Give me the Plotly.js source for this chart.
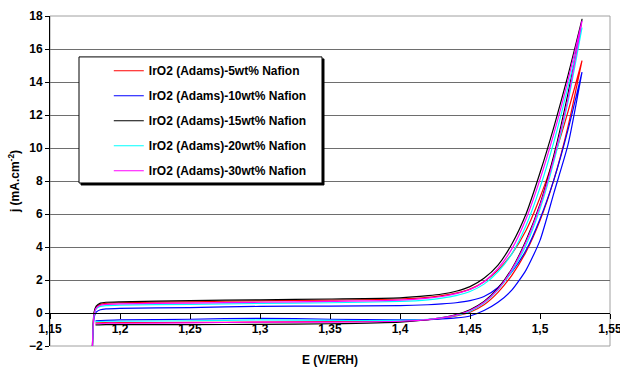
<!DOCTYPE html>
<html>
<head>
<meta charset="utf-8">
<script src="https://cdn.plot.ly/plotly-3.0.1.min.js"></script>
<style>html,body{margin:0;padding:0;background:#fff;}#chart{width:620px;height:371px;}</style>
</head>
<body>
<div id="chart"></div>
<script>
// Potential grids (V vs ERH): forward (anodic) and reverse scan
const E_fwd = [1.1802, 1.1808, 1.1815, 1.183, 1.186, 1.19, 1.2, 1.25, 1.3, 1.35, 1.4, 1.42, 1.43, 1.44, 1.45, 1.46, 1.47, 1.48, 1.49, 1.50, 1.51, 1.52, 1.53];
const E_rev = [1.53, 1.52, 1.51, 1.50, 1.49, 1.48, 1.47, 1.46, 1.45, 1.44, 1.43, 1.42, 1.40, 1.35, 1.30, 1.25, 1.20, 1.19, 1.1825];

const seriesNames = ["IrO2 (Adams)-5wt% Nafion", "IrO2 (Adams)-10wt% Nafion", "IrO2 (Adams)-15wt% Nafion", "IrO2 (Adams)-20wt% Nafion", "IrO2 (Adams)-30wt% Nafion"];
const seriesColors = ["#ff0000", "#0000ff", "#000000", "#00ffff", "#ff00ff"];

// current density j (mA.cm-2), forward scan
const j_fwd_5  = [-2.4, -0.8, -0.05, 0.35, 0.52, 0.58, 0.62, 0.68, 0.74, 0.78, 0.85, 0.95, 1.05, 1.2, 1.45, 1.9, 2.6, 3.6, 5.0, 7.0, 9.4, 12.2, 15.3];
const j_fwd_10 = [-2.4, -1.0, -0.3, 0.05, 0.2, 0.25, 0.28, 0.33, 0.4, 0.42, 0.45, 0.5, 0.55, 0.62, 0.75, 1.0, 1.55, 2.5, 3.8, 5.7, 8.1, 11.1, 14.6];
const j_fwd_15 = [-2.4, -0.7, 0.05, 0.42, 0.6, 0.65, 0.68, 0.75, 0.8, 0.85, 0.92, 1.05, 1.15, 1.32, 1.6, 2.1, 2.9, 4.2, 6.0, 8.5, 11.3, 14.4, 17.8];
const j_fwd_20 = [-2.4, -0.9, -0.15, 0.25, 0.4, 0.45, 0.48, 0.52, 0.58, 0.62, 0.7, 0.8, 0.9, 1.05, 1.3, 1.75, 2.5, 3.6, 5.3, 7.6, 10.4, 13.7, 17.3];
const j_fwd_30 = [-2.4, -0.85, -0.1, 0.3, 0.47, 0.52, 0.55, 0.6, 0.65, 0.7, 0.78, 0.9, 1.0, 1.17, 1.42, 1.9, 2.7, 3.9, 5.7, 8.1, 10.9, 14.1, 17.7];

// current density j (mA.cm-2), reverse scan
const j_rev_5  = [15.3, 11.3, 8.1, 5.6, 3.7, 2.3, 1.25, 0.5, 0.05, -0.18, -0.32, -0.4, -0.48, -0.52, -0.55, -0.57, -0.58, -0.58, -0.6];
const j_rev_10 = [14.6, 10.2, 7.3, 4.4, 2.6, 1.4, 0.65, 0.15, -0.18, -0.3, -0.36, -0.4, -0.42, -0.38, -0.32, -0.38, -0.42, -0.45, -0.48];
const j_rev_15 = [17.8, 13.3, 9.6, 6.6, 4.4, 2.7, 1.5, 0.7, 0.2, -0.1, -0.28, -0.4, -0.55, -0.65, -0.69, -0.7, -0.7, -0.7, -0.72];
const j_rev_20 = [17.3, 12.8, 9.2, 6.3, 4.1, 2.55, 1.4, 0.6, 0.1, -0.15, -0.3, -0.38, -0.45, -0.45, -0.42, -0.47, -0.5, -0.5, -0.52];
const j_rev_30 = [17.7, 13.0, 9.4, 6.5, 4.3, 2.65, 1.45, 0.65, 0.15, -0.12, -0.3, -0.4, -0.5, -0.55, -0.55, -0.6, -0.62, -0.62, -0.65];

const xTickVals = [1.15, 1.2, 1.25, 1.3, 1.35, 1.4, 1.45, 1.5, 1.55];
const xTickText = ["1,15", "1,2", "1,25", "1,3", "1,35", "1,4", "1,45", "1,5", "1,55"];
const yTickVals = [-2, 0, 2, 4, 6, 8, 10, 12, 14, 16, 18];

const fwd = [j_fwd_5, j_fwd_10, j_fwd_15, j_fwd_20, j_fwd_30];
const rev = [j_rev_5, j_rev_10, j_rev_15, j_rev_20, j_rev_30];

const FONT = "Liberation Sans, Arial, sans-serif";
const BOLD12 = {family: FONT, size: 12, color: "#000", weight: "bold"};

const traces = seriesNames.map((name, i) => ({
  type: "scatter",
  mode: "lines",
  name: name,
  legendgroup: "g" + i,
  x: E_fwd.concat(E_rev),
  y: fwd[i].concat(rev[i]),
  line: {color: seriesColors[i], width: 1.2, shape: "spline", smoothing: 0.6}
}));

// legend box geometry (paper coords)
const lx0 = 0.0518, lx1 = 0.4857, ly0 = 0.494, ly1 = 0.876;
const sdx = 2 / 560, sdy = 2 / 330;

const layout = {
  width: 620,
  height: 371,
  margin: {l: 50, r: 10, t: 16, b: 25},
  paper_bgcolor: "#ffffff",
  plot_bgcolor: "#ffffff",
  font: {family: FONT, size: 12, color: "#000"},
  showlegend: true,
  legend: {
    x: 0.105, y: 0.878, xanchor: "left", yanchor: "top",
    bgcolor: "rgba(0,0,0,0)", borderwidth: 0,
    font: BOLD12,
    traceorder: "grouped", tracegroupgap: 6
  },
  xaxis: {
    range: [1.15, 1.55],
    tickmode: "array", tickvals: xTickVals, ticktext: xTickText,
    anchor: "free", position: 0.1,
    showline: true, linecolor: "#000", linewidth: 1,
    ticks: "outside", ticklen: 5, tickcolor: "#000",
    ticklabeloverflow: "allow",
    showgrid: false, zeroline: false,
    tickfont: BOLD12,
    title: {text: "E (V/ERH)", font: BOLD12, standoff: 20}
  },
  yaxis: {
    range: [-2, 18],
    tickmode: "array", tickvals: yTickVals,
    showline: true, linecolor: "#000", linewidth: 1,
    ticks: "outside", ticklen: 4, tickcolor: "#000",
    showgrid: true, gridcolor: "#6e6e6e", gridwidth: 1,
    zeroline: false,
    tickfont: BOLD12,
    title: {text: "j (mA.cm<sup>-2</sup>)", font: BOLD12, standoff: 6}
  },
  shapes: [
    {type: "rect", xref: "paper", yref: "paper", x0: 0, x1: 1, y0: 0, y1: 1, line: {color: "#a0a0a0", width: 1}, layer: "below"},
    {type: "rect", xref: "paper", yref: "paper", x0: lx0 + sdx, x1: lx1 + sdx, y0: ly0 - sdy, y1: ly1 - sdy, fillcolor: "#000", line: {color: "#000", width: 1}, layer: "above"},
    {type: "rect", xref: "paper", yref: "paper", x0: lx0, x1: lx1, y0: ly0, y1: ly1, fillcolor: "#fff", line: {color: "#000", width: 1}, layer: "above"}
  ]
};

Plotly.newPlot("chart", traces, layout, {displayModeBar: false, staticPlot: true});
</script>
</body>
</html>
